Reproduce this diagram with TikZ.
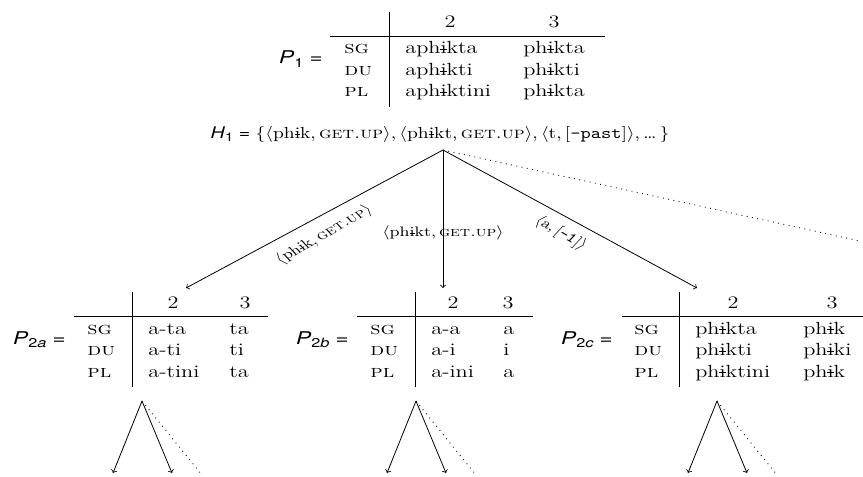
\documentclass[tikz,border=0pt]{standalone}
\usepackage{fontspec}
\usepackage{graphicx}
\newfontfamily\hv{TeX Gyre Heros}
\newcommand\ib{\ooalign{i\cr\hidewidth\rule[0.5ex]{0.3em}{0.045em}\hidewidth\cr}}
\newcommand\sx[1]{\scalebox{1.27}[1]{#1}}
\newcommand\ang[1]{$\langle$#1$\rangle$}
\newcommand\gu{\textsc{get.up}}
\newcommand\subsz{\fontsize{8}{9}\selectfont}
\newcommand\labsz{\fontsize{8.6}{10}\selectfont}
\newcommand\plab[1]{{\hv\textit{P}\raisebox{-0.22em}{\subsz #1}\hspace{3pt}=}}
\newcommand\trow[8]{%
  \node[txt] (#1-l) at (#3,#2) {\sx{\textsc{#6}}};
  \node[txt] (#1-a) at (#4,#2) {\sx{#7}};
  \node[txt] (#1-b) at (#5,#2) {\sx{#8}};}
\newcommand\tframe[8]{%
  \draw[tabvrule] (#2,#3) coordinate (#1-vt) -- (#2,#3+95) coordinate (#1-vb);
  \draw[tabrule] (#4,#3+24.5) coordinate (#1-hl) -- (#5,#3+24.5) coordinate (#1-hr);
  \node[ctr] (#1-h2) at (#6,#3+16) {\sx{2}};
  \node[ctr] (#1-h3) at (#7,#3+16) {\sx{3}};
  \node[rgt] (#1-p) at (#2-66,#3+52) {\sx{#8}};}
\begin{document}
\begin{tikzpicture}[x=0.625pt,y=-0.625pt,
  font=\fontsize{11}{13.6}\selectfont,
  txt/.style={inner sep=0pt,anchor=base west},
  ctr/.style={inner sep=0pt,anchor=base},
  rgt/.style={inner sep=0pt,anchor=base east},
  lbl/.style={inner sep=0pt,anchor=center},
  tabrule/.style={line width=0.45pt},
  tabvrule/.style={line width=0.6pt},
  arr/.style={line width=0.5pt,->},
  dotln/.style={line width=0.55pt,dash pattern=on 0.55pt off 2.8pt}]
\useasboundingbox (0,0) rectangle (863,477);
% top table
\tframe{P1}{389}{12}{330}{605}{450}{554}{\plab{1}}
\trow{P1r1}{54}{344}{405}{523}{sg}{aph\ib kta}{ph\ib kta}
\trow{P1r2}{75.5}{344}{405}{523}{du}{aph\ib kti}{ph\ib kti}
\trow{P1r3}{97}{344}{405}{523}{pl}{aph\ib ktini}{ph\ib kta}
\node[ctr] (H1) at (440,138) {\scalebox{1.22}[1]{\fontsize{10}{12}\selectfont{\hv\textit{H}\raisebox{-0.22em}{\fontsize{7.5}{9}\selectfont 1}\hspace{2.8pt}=\hspace{2.8pt}}\{\ang{ph\ib k,\,\gu},\,\ang{ph\ib kt,\,\gu},\,\ang{t,\,[\texttt{-past}]},\,\ldots\,\}}};
% P2a
\tframe{P2a}{132}{292}{74}{268}{173}{245}{\plab{2\textit{a}}}
\trow{P2ar1}{334}{87}{148}{229}{sg}{a-ta}{ta}
\trow{P2ar2}{355.5}{87}{148}{229}{du}{a-ti}{ti}
\trow{P2ar3}{377}{87}{148}{229}{pl}{a-tini}{ta}
% P2b
\tframe{P2b}{415}{292}{357}{533}{453}{508}{\plab{2\textit{b}}}
\trow{P2br1}{334}{370}{431}{503}{sg}{a-a}{a}
\trow{P2br2}{355.5}{370}{431}{503}{du}{a-i}{i}
\trow{P2br3}{377}{370}{431}{503}{pl}{a-ini}{a}
% P2c
\tframe{P2c}{679}{292}{622}{863}{733}{832}{\plab{2\textit{c}}}
\trow{P2cr1}{334}{634}{695}{803}{sg}{ph\ib kta}{ph\ib k}
\trow{P2cr2}{355.5}{634}{695}{803}{du}{ph\ib kti}{ph\ib ki}
\trow{P2cr3}{377}{634}{695}{803}{pl}{ph\ib ktini}{ph\ib k}
% top edges
\coordinate (root) at (443,150);
\coordinate (tA) at (186,288);
\coordinate (tB) at (443,288);
\coordinate (tC) at (697,288);
\coordinate (tD) at (860,241);
\draw[arr] (root) -- (tA);
\draw[arr] (root) -- (tB);
\draw[arr] (root) -- (tC);
\draw[dotln] (root) -- (tD);
\node[lbl] (la) at (324,235) {\sx{\rotatebox{36}{\labsz\ang{ph\ib k,\,\gu}}}};
\node[lbl] (lb) at (443,233) {\sx{\labsz\ang{ph\ib kt,\,\gu}}};
\node[lbl] (lc) at (561,233) {\sx{\rotatebox{-36}{\labsz\ang{a,\,[\texttt{-1}]}}}};
% bottom subtrees
\foreach \n/\x in {a/142,b/416,c/717}{
  \coordinate (s\n) at (\x,401);
  \coordinate (s\n-l) at (\x-29,473);
  \coordinate (s\n-r) at (\x+30,473);
  \coordinate (s\n-d) at (\x+60,475);
  \draw[arr] (s\n) -- (s\n-l);
  \draw[arr] (s\n) -- (s\n-r);
  \draw[dotln] (s\n) -- (s\n-d);
}
\end{tikzpicture}
\end{document}
